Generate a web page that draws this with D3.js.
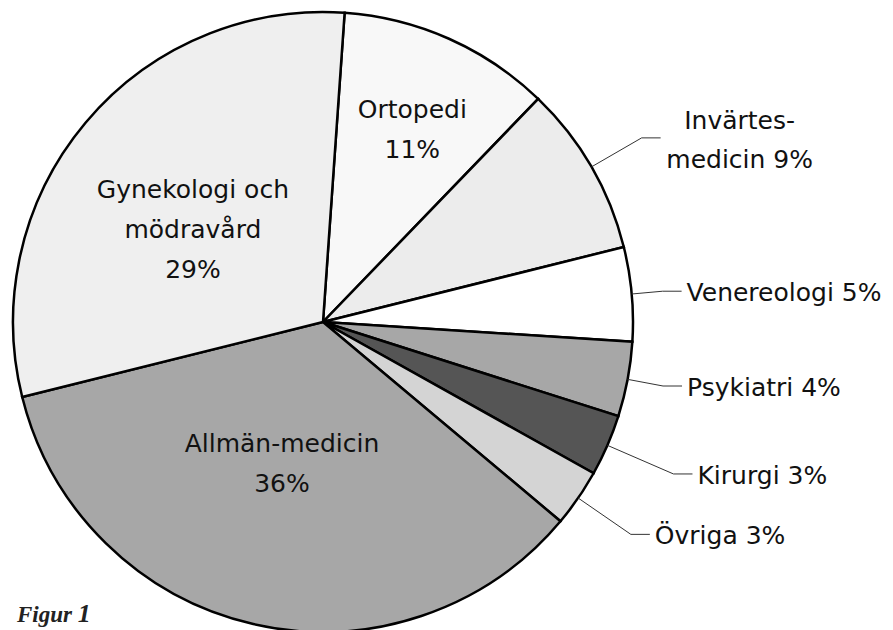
<!DOCTYPE html>
<html>
<head>
<meta charset="utf-8">
<script src="https://cdn.jsdelivr.net/npm/d3@7"></script>
<style>
  html, body { margin: 0; padding: 0; background: #fff; }
  svg { display: block; }
</style>
</head>
<body>
<svg id="chart" width="893" height="630"></svg>
<script>
// ---- data ----
const categories = ["Ortopedi", "Invärtes-medicin", "Venereologi", "Psykiatri", "Kirurgi", "Övriga", "Allmän-medicin", "Gynekologi och mödravård"];
// slice shares (percent)
const values = [11.1, 8.9, 4.9, 3.9, 3.2, 3.0, 35.0, 30.0];
// printed labels
const labelLines = [
  ["Ortopedi", "11%"],
  ["Invärtes-", "medicin 9%"],
  ["Venereologi 5%"],
  ["Psykiatri 4%"],
  ["Kirurgi 3%"],
  ["Övriga 3%"],
  ["Allmän-medicin", "36%"],
  ["Gynekologi och", "mödravård", "29%"]
];
const fills = ["#f8f8f8", "#ececec", "#ffffff", "#a7a7a7", "#555555", "#d4d4d4", "#a7a7a7", "#efefef"];

// ---- layout config ----
const cx = 323, cy = 322, R = 310;
const startAngle = 4 * Math.PI / 180;
// inside labels: radius of label centre; outside labels: elbow radius
const labelMode = ["in", "out", "out", "out", "out", "out", "in", "in"];
const labelRadius = [213, 368, 341, 346, 382, 374, 147, 160];
const labelAngleShift = [0.8, 0, 0, 0, 0, 0, 3.2, -4.4]; // degrees
const lineHeight = 40;
const fontFamily = "'DejaVu Sans', sans-serif";
const fontSize = 25;
const baseShift = 9;

const svg = d3.select("#chart");
const g = svg.append("g").attr("transform", `translate(${cx},${cy})`);

const pie = d3.pie().sort(null).value(d => d)
  .startAngle(startAngle).endAngle(startAngle + 2 * Math.PI);
const arcs = pie(values);
const arc = d3.arc().innerRadius(0).outerRadius(R);

g.selectAll("path.slice").data(arcs).join("path")
  .attr("class", "slice")
  .attr("d", arc)
  .attr("fill", (d, i) => fills[i])
  .attr("stroke", "#000")
  .attr("stroke-width", 2.5)
  .attr("stroke-linejoin", "miter");

function polar(r, a) { return [r * Math.sin(a), -r * Math.cos(a)]; }

arcs.forEach((d, i) => {
  const mid = (d.startAngle + d.endAngle) / 2;
  const lines = labelLines[i];
  if (labelMode[i] === "in") {
    const [x, y] = polar(labelRadius[i], mid + labelAngleShift[i] * Math.PI / 180);
    const t = g.append("text")
      .attr("text-anchor", "middle")
      .attr("font-family", fontFamily)
      .attr("font-size", fontSize)
      .attr("fill", "#111");
    const y0 = y - (lines.length - 1) * lineHeight / 2 + baseShift;
    lines.forEach((ln, k) => {
      t.append("tspan").attr("x", x).attr("y", y0 + k * lineHeight).text(ln);
    });
  } else {
    const p0 = polar(R, mid);
    const p1 = polar(labelRadius[i], mid);
    const p2 = [p1[0] + 19, p1[1]];
    g.append("polyline")
      .attr("points", [p0, p1, p2].map(p => p.join(",")).join(" "))
      .attr("fill", "none")
      .attr("stroke", "#333")
      .attr("stroke-width", 1);
    const t = g.append("text")
      .attr("font-family", fontFamily)
      .attr("font-size", fontSize)
      .attr("fill", "#111");
    if (lines.length === 1) {
      t.attr("text-anchor", "start")
        .append("tspan").attr("x", p2[0] + 5).attr("y", p2[1] + baseShift + 1).text(lines[0]);
    } else {
      // two-line label centred to the right of the leader
      const xc = p2[0] + 79;
      t.attr("text-anchor", "middle");
      lines.forEach((ln, k) => {
        t.append("tspan").attr("x", xc).attr("y", p2[1] - 9 + k * 39).text(ln);
      });
    }
  }
});

// ---- caption ----
const cap = svg.append("text")
  .attr("x", 17).attr("y", 622)
  .attr("font-family", "'Liberation Serif', serif")
  .attr("font-style", "italic")
  .attr("font-weight", "bold")
  .attr("fill", "#222");
cap.append("tspan").attr("font-size", 23).text("Figur ");
cap.append("tspan").attr("font-size", 26).text("1");
</script>
</body>
</html>
